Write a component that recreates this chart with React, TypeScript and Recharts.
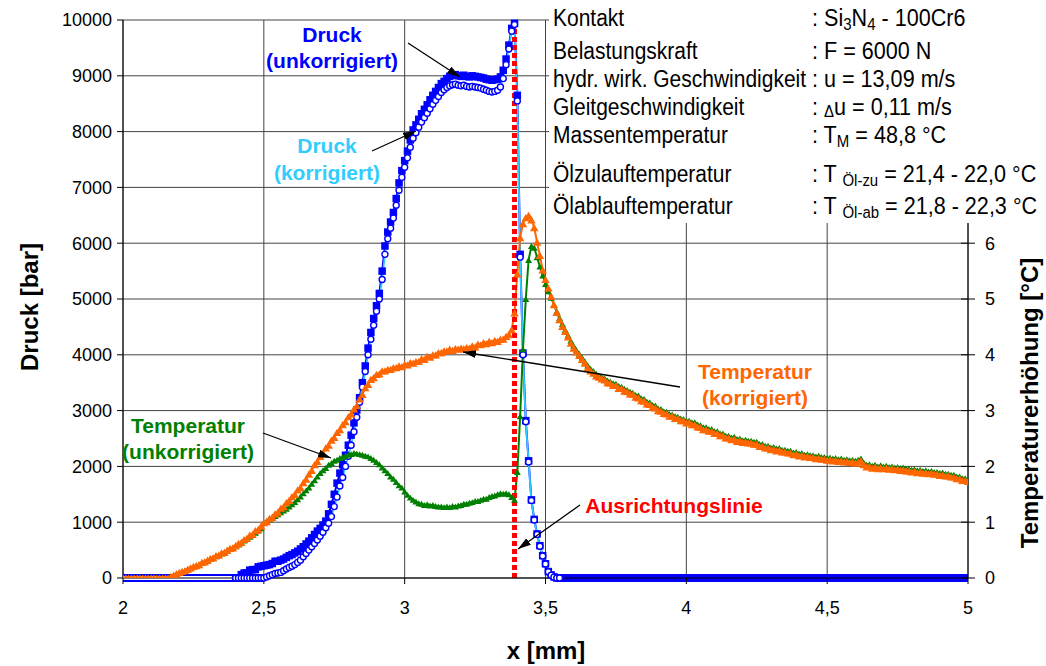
import React from "react";
import { CartesianGrid, ComposedChart, Line, ReferenceLine, XAxis, YAxis } from "recharts";

const FONT = '"Liberation Sans", Arial, Helvetica, sans-serif';
const BLUE = "#0000FF";
const CYAN = "#33CCFF";
const ORANGE = "#FF6600";
const GREEN = "#008000";
const RED = "#FF0000";

// Messraster in mm
const X_STEP = 0.01;
const TEMP_X0 = 2.0;
const DRUCK_X0 = 2.4;

const xTicks = [2, 2.5, 3, 3.5, 4, 4.5, 5];
const druckTicks = [0, 1000, 2000, 3000, 4000, 5000, 6000, 7000, 8000, 9000, 10000];
const tempTicks = [0, 1, 2, 3, 4, 5, 6];

const ausrichtungslinieX = 3.39;

// Temperaturerhöhung [°C], x = 2.00 ... 5.00 mm
const tempKorrigiert = [
  0, 0, 0, 0, 0, 0, 0, 0, 0, 0,
  0, 0, 0, 0, 0, 0, 0, 0.03, 0.05, 0.08,
  0.10, 0.12, 0.13, 0.16, 0.18, 0.21, 0.22, 0.24, 0.28, 0.29,
  0.32, 0.35, 0.36, 0.40, 0.41, 0.45, 0.46, 0.50, 0.53, 0.54,
  0.58, 0.62, 0.64, 0.69, 0.71, 0.77, 0.78, 0.85, 0.87, 0.93,
  0.99, 1.01, 1.07, 1.09, 1.15, 1.18, 1.25, 1.28, 1.35, 1.39,
  1.46, 1.50, 1.58, 1.62, 1.71, 1.77, 1.86, 1.93, 2.03, 2.09,
  2.18, 2.23, 2.33, 2.38, 2.47, 2.52, 2.61, 2.66, 2.75, 2.80,
  2.89, 2.94, 3.03, 3.09, 3.21, 3.29, 3.41, 3.47, 3.56, 3.59,
  3.65, 3.66, 3.71, 3.71, 3.74, 3.74, 3.77, 3.77, 3.80, 3.79,
  3.83, 3.82, 3.86, 3.85, 3.88, 3.88, 3.93, 3.92, 3.97, 3.96,
  4.00, 4.00, 4.04, 4.04, 4.07, 4.07, 4.10, 4.08, 4.11, 4.10,
  4.12, 4.11, 4.13, 4.12, 4.16, 4.14, 4.19, 4.18, 4.22, 4.20,
  4.24, 4.22, 4.26, 4.24, 4.28, 4.28, 4.33, 4.36, 4.45, 4.75,
  5.45, 6.10, 6.35, 6.46, 6.50, 6.42, 6.28, 6.02, 5.78, 5.52,
  5.35, 5.20, 5.05, 4.90, 4.76, 4.63, 4.51, 4.42, 4.32, 4.21,
  4.12, 4.05, 3.99, 3.92, 3.85, 3.77, 3.71, 3.67, 3.62, 3.60,
  3.57, 3.55, 3.50, 3.49, 3.45, 3.45, 3.40, 3.40, 3.35, 3.34,
  3.30, 3.29, 3.24, 3.23, 3.18, 3.17, 3.12, 3.11, 3.06, 3.05,
  3.00, 2.99, 2.95, 2.94, 2.90, 2.90, 2.86, 2.86, 2.82, 2.82,
  2.78, 2.79, 2.75, 2.75, 2.71, 2.70, 2.66, 2.66, 2.63, 2.63,
  2.59, 2.59, 2.55, 2.55, 2.51, 2.51, 2.48, 2.49, 2.45, 2.46,
  2.43, 2.44, 2.42, 2.42, 2.40, 2.40, 2.36, 2.36, 2.33, 2.33,
  2.30, 2.31, 2.28, 2.29, 2.26, 2.26, 2.24, 2.24, 2.21, 2.22,
  2.19, 2.20, 2.17, 2.18, 2.16, 2.16, 2.14, 2.15, 2.13, 2.13,
  2.11, 2.12, 2.10, 2.11, 2.09, 2.10, 2.08, 2.09, 2.07, 2.08,
  2.06, 2.08, 2.10, 2.03, 1.99, 2.00, 1.97, 1.99, 1.96, 1.98,
  1.96, 1.97, 1.95, 1.96, 1.94, 1.95, 1.93, 1.94, 1.92, 1.92,
  1.90, 1.91, 1.89, 1.90, 1.88, 1.89, 1.87, 1.88, 1.86, 1.86,
  1.84, 1.85, 1.83, 1.83, 1.81, 1.81, 1.78, 1.78, 1.75, 1.75,
  1.73,
];

const tempUnkorrigiert = [
  0, 0, 0, 0, 0, 0, 0, 0, 0, 0,
  0, 0, 0, 0, 0, 0, 0, 0.02, 0.04, 0.07,
  0.09, 0.11, 0.13, 0.15, 0.18, 0.20, 0.22, 0.24, 0.27, 0.29,
  0.31, 0.34, 0.36, 0.39, 0.41, 0.44, 0.46, 0.49, 0.52, 0.54,
  0.57, 0.60, 0.63, 0.67, 0.70, 0.74, 0.77, 0.81, 0.85, 0.89,
  0.99, 1.02, 1.05, 1.08, 1.11, 1.14, 1.18, 1.21, 1.24, 1.28,
  1.32, 1.36, 1.41, 1.46, 1.52, 1.57, 1.62, 1.69, 1.75, 1.82,
  1.88, 1.93, 1.97, 2.03, 2.06, 2.10, 2.12, 2.15, 2.17, 2.19,
  2.21, 2.22, 2.24, 2.23, 2.22, 2.21, 2.19, 2.18, 2.15, 2.12,
  2.08, 2.04, 1.98, 1.93, 1.88, 1.82, 1.78, 1.72, 1.66, 1.62,
  1.55, 1.49, 1.44, 1.40, 1.37, 1.34, 1.33, 1.31, 1.32, 1.30,
  1.31, 1.29, 1.28, 1.28, 1.27, 1.28, 1.27, 1.29, 1.28, 1.30,
  1.31, 1.33, 1.33, 1.35, 1.36, 1.38, 1.38, 1.40, 1.42, 1.42,
  1.45, 1.47, 1.48, 1.50, 1.52, 1.51, 1.52, 1.50, 1.45, 1.40,
  1.90, 2.90, 4.10, 5.00, 5.70, 5.95, 5.92, 5.75, 5.58, 5.42,
  5.27, 5.14, 5.02, 4.90, 4.78, 4.66, 4.55, 4.45, 4.35, 4.25,
  4.16, 4.08, 4.02, 3.95, 3.88, 3.81, 3.75, 3.71, 3.66, 3.63,
  3.60, 3.58, 3.54, 3.52, 3.49, 3.48, 3.44, 3.43, 3.39, 3.37,
  3.34, 3.32, 3.28, 3.27, 3.22, 3.21, 3.16, 3.15, 3.10, 3.09,
  3.04, 3.03, 2.99, 2.98, 2.94, 2.93, 2.90, 2.89, 2.86, 2.85,
  2.82, 2.82, 2.79, 2.79, 2.75, 2.74, 2.70, 2.70, 2.67, 2.67,
  2.63, 2.63, 2.59, 2.59, 2.55, 2.55, 2.52, 2.53, 2.49, 2.50,
  2.47, 2.48, 2.46, 2.46, 2.44, 2.44, 2.40, 2.40, 2.37, 2.37,
  2.34, 2.35, 2.32, 2.33, 2.30, 2.30, 2.28, 2.28, 2.25, 2.26,
  2.23, 2.24, 2.21, 2.22, 2.20, 2.20, 2.18, 2.19, 2.17, 2.17,
  2.15, 2.16, 2.14, 2.15, 2.13, 2.14, 2.12, 2.13, 2.11, 2.12,
  2.10, 2.12, 2.14, 2.07, 2.03, 2.04, 2.01, 2.03, 2.00, 2.02,
  2.00, 2.01, 1.99, 2.00, 1.98, 1.99, 1.97, 1.98, 1.96, 1.96,
  1.94, 1.95, 1.93, 1.94, 1.92, 1.93, 1.91, 1.92, 1.90, 1.90,
  1.88, 1.89, 1.87, 1.87, 1.85, 1.85, 1.82, 1.82, 1.79, 1.79,
  1.76,
];

// Druck [bar], x = 2.40 ... 3.55 mm
const druckUnkorrigiert = [
  0, 0, 60, 90, 90, 140, 150, 150, 200, 210,
  220, 230, 240, 260, 300, 300, 320, 340, 370, 400,
  420, 450, 480, 520, 560, 610, 660, 720, 780, 840,
  890, 950, 1020, 1150, 1320, 1500, 1700, 1880, 2030, 2200,
  2380, 2560, 2780, 3010, 3230, 3500, 3800, 4120, 4400, 4650,
  4880, 5100, 5500, 5950, 6200, 6380, 6550, 6800, 7080, 7300,
  7480, 7650, 7850, 8030, 8120, 8220, 8320, 8400, 8480, 8570,
  8650, 8720, 8790, 8860, 8900, 8950, 8990, 9010, 9020, 9000,
  8990, 9010, 8990, 8980, 9000, 8990, 8980, 8970, 8960, 8940,
  8930, 8920, 8930, 8940, 8980, 9100, 9300, 9550, 9850, 9940,
  8650, 5800, 4030, 2820, 2100, 1400, 1050, 790, 580, 400,
  255, 115, 55, 20, 0, 0,
];

const druckKorrigiert = [
  0, 0, 0, 0, 0, 0, 0, 0, 0, 0,
  0, 20, 40, 60, 80, 90, 100, 130, 160, 190,
  210, 240, 280, 320, 380, 440, 500, 560, 620, 680,
  750, 820, 900, 980, 1100, 1280, 1450, 1650, 1800, 2000,
  2180, 2380, 2620, 2880, 3150, 3420, 3700, 4000, 4280, 4530,
  4780, 5000, 5350, 5800, 6080, 6270, 6450, 6680, 6950, 7180,
  7360, 7530, 7720, 7880, 7980, 8080, 8170, 8250, 8330, 8410,
  8490, 8560, 8630, 8700, 8750, 8790, 8820, 8840, 8850, 8830,
  8820, 8830, 8810, 8800, 8810, 8800, 8790, 8780, 8760, 8740,
  8720, 8710, 8720, 8740, 8800, 8950, 9200, 9480, 9800, 9920,
  8550, 5750, 4000, 2800, 2080, 1390, 1040, 780, 570, 395,
  250, 110, 50, 15, 0, 0,
];

// Bereiche ohne Druck (x von, x bis)
const druckNullUnkorrigiert: [number, number][] = [[2.0, 2.41], [3.54, 5.0]];
const druckNullKorrigiert: [number, number][] = [[2.0, 2.5]];

const atStep = (x0: number, i: number) => Math.round((x0 + i * X_STEP) * 100) / 100;
const toSeries = (values: number[], x0: number) => values.map((v, i) => ({ x: atStep(x0, i), v }));
const toNullBand = (ranges: [number, number][]) =>
  ranges.flatMap(([a, b]) => [{ x: a, v: 0 }, { x: b, v: 0 }, { x: b, v: null as number | null }]);

const tempKorrData = toSeries(tempKorrigiert, TEMP_X0);
const tempUnkorrData = toSeries(tempUnkorrigiert, TEMP_X0);
const druckUnkorrData = toSeries(druckUnkorrigiert, DRUCK_X0);
const druckKorrData = toSeries(druckKorrigiert, DRUCK_X0);
const nullUnkorrData = toNullBand(druckNullUnkorrigiert);
const nullKorrData = toNullBand(druckNullKorrigiert);

const commaNum = (v: number) => String(v).replace(".", ",");

// Marker
const squareDot = (color: string, s: number) => (p: any) => {
  if (p.cx == null || p.cy == null) return <g key={p.index} />;
  return <rect key={p.index} x={p.cx - s / 2} y={p.cy - s / 2} width={s} height={s} fill={color} />;
};
const ringDot = (p: any) => {
  if (p.cx == null || p.cy == null) return <g key={p.index} />;
  return <circle key={p.index} cx={p.cx} cy={p.cy} r={3} fill="#fff" stroke={BLUE} strokeWidth={1.4} />;
};
const triangleDot = (color: string, w: number) => (p: any) => {
  if (p.cx == null || p.cy == null) return <g key={p.index} />;
  const h = w * 0.85;
  const d = `M${p.cx},${p.cy - h / 2} L${p.cx + w / 2},${p.cy + h / 2} L${p.cx - w / 2},${p.cy + h / 2} Z`;
  return <path key={p.index} d={d} fill={color} />;
};

// rechte Achse: Teilstriche laufen durch die Achse
const RightTick = (p: any) => {
  const ax = p.x - 17;
  return (
    <g>
      <line x1={ax - 7} x2={ax + 7} y1={p.y} y2={p.y} stroke="#000" />
      <text x={p.x} y={p.y} dy="0.355em" fontSize={18} fill="#000">
        {p.payload.value}
      </text>
    </g>
  );
};

const infoRows = [
  { label: "Kontakt", y: 26 },
  { label: "Belastungskraft", y: 59 },
  { label: "hydr. wirk. Geschwindigkeit", y: 87 },
  { label: "Gleitgeschwindigkeit", y: 115 },
  { label: "Massentemperatur", y: 143 },
  { label: "Ölzulauftemperatur", y: 182 },
  { label: "Ölablauftemperatur", y: 214 },
];

const SUB = { fontSize: 15 };

function InfoValue({ row }: { row: number }) {
  switch (row) {
    case 0:
      return (
        <>
          : Si<tspan {...SUB} dy={4}>3</tspan>
          <tspan dy={-4}>N</tspan>
          <tspan {...SUB} dy={4}>4</tspan>
          <tspan dy={-4}> - 100Cr6</tspan>
        </>
      );
    case 1:
      return <>: F = 6000 N</>;
    case 2:
      return <>: u = 13,09 m/s</>;
    case 3:
      return (
        <>
          : <tspan {...SUB} dy={2}>Δ</tspan>
          <tspan dy={-2}>u = 0,11 m/s</tspan>
        </>
      );
    case 4:
      return (
        <>
          : T<tspan {...SUB} dy={4}>M</tspan>
          <tspan dy={-4}> = 48,8 °C</tspan>
        </>
      );
    case 5:
      return (
        <>
          : T <tspan {...SUB} dy={4}>Öl-zu</tspan>
          <tspan dy={-4}> = 21,4 - 22,0 °C</tspan>
        </>
      );
    default:
      return (
        <>
          : T <tspan {...SUB} dy={4}>Öl-ab</tspan>
          <tspan dy={-4}> = 21,8 - 22,3 °C</tspan>
        </>
      );
  }
}

const callouts = [
  { lines: ["Druck", "(unkorrigiert)"], color: BLUE, cx: 332, y: [42, 68], from: [408, 43], to: [460, 77] },
  { lines: ["Druck", "(korrigiert)"], color: CYAN, cx: 327, y: [153, 180], from: [372, 151], to: [416, 131] },
  { lines: ["Temperatur", "(unkorrigiert)"], color: GREEN, cx: 188, y: [433, 459], from: [263, 433], to: [331, 458] },
  { lines: ["Temperatur", "(korrigiert)"], color: ORANGE, cx: 755, y: [379, 405], from: [680, 387], to: [463, 352] },
  { lines: ["Ausrichtungslinie"], color: RED, cx: 674, y: [513], from: [580, 505], to: [518, 549] },
];

export default function App() {
  return (
    <div style={{ position: "absolute", left: 0, top: 0, width: 1046, height: 666, background: "#fff", fontFamily: FONT }}>
      <ComposedChart width={1046} height={666} margin={{ top: 20, right: 0, bottom: 0, left: 0 }}>
        <CartesianGrid yAxisId="druck" stroke="#444" />
        <XAxis
          type="number"
          dataKey="x"
          domain={[2, 5]}
          ticks={xTicks}
          interval={0}
          allowDataOverflow
          tickFormatter={commaNum}
          tick={{ fill: "#000", fontSize: 18 }}
          tickLine={{ stroke: "#000" }}
          axisLine={{ stroke: "#000" }}
          tickSize={6}
          tickMargin={17}
          height={88}
        />
        <YAxis
          yAxisId="druck"
          domain={[0, 10000]}
          ticks={druckTicks}
          interval={0}
          tick={{ fill: "#000", fontSize: 18 }}
          tickLine={{ stroke: "#000" }}
          axisLine={{ stroke: "#000" }}
          tickSize={6}
          tickMargin={5}
          width={123}
        />
        <YAxis
          yAxisId="temp"
          orientation="right"
          domain={[0, 10]}
          ticks={tempTicks}
          interval={0}
          allowDataOverflow
          tick={RightTick}
          tickLine={false}
          axisLine={{ stroke: "#000" }}
          tickSize={7}
          tickMargin={10}
          width={78}
        />

        {/* Nulllinien der Druckverläufe */}
        <Line yAxisId="druck" data={nullUnkorrData} dataKey="v" stroke={BLUE} strokeWidth={8} dot={false} activeDot={false} isAnimationActive={false} />
        <Line yAxisId="druck" data={nullKorrData} dataKey="v" stroke={BLUE} strokeWidth={8} dot={false} activeDot={false} isAnimationActive={false} />
        <Line yAxisId="druck" data={nullKorrData} dataKey="v" stroke="#fff" strokeWidth={4} dot={false} activeDot={false} isAnimationActive={false} />

        <Line yAxisId="druck" data={druckUnkorrData} dataKey="v" stroke={BLUE} strokeWidth={2} dot={squareDot(BLUE, 7.5)} activeDot={false} isAnimationActive={false} />
        <Line yAxisId="druck" data={druckKorrData} dataKey="v" stroke={CYAN} strokeWidth={1.8} dot={ringDot} activeDot={false} isAnimationActive={false} />

        <Line yAxisId="temp" data={tempUnkorrData} dataKey="v" stroke={GREEN} strokeWidth={2} dot={triangleDot(GREEN, 7)} activeDot={false} isAnimationActive={false} />
        <Line yAxisId="temp" data={tempKorrData} dataKey="v" stroke={ORANGE} strokeWidth={2} dot={triangleDot(ORANGE, 8.5)} activeDot={false} isAnimationActive={false} />

        <ReferenceLine yAxisId="druck" x={ausrichtungslinieX} stroke={RED} strokeWidth={5} strokeDasharray="5 3" />
      </ComposedChart>

      <svg
        width={1046}
        height={666}
        style={{ position: "absolute", left: 0, top: 0, pointerEvents: "none", whiteSpace: "pre" }}
        fontFamily={FONT}
      >
        <defs>
          <marker id="pfeil" viewBox="0 0 13 8" refX={13} refY={4} markerWidth={13} markerHeight={8} markerUnits="userSpaceOnUse" orient="auto">
            <path d="M0,0 L13,4 L0,8 Z" fill="#000" />
          </marker>
        </defs>

        {/* Versuchsbedingungen */}
        <rect x={549} y={0} width={497} height={223} fill="#fff" />
        {infoRows.map((r, i) => (
          <g key={r.label} fill="#000">
            <text fontSize={21} transform={`translate(553 ${r.y}) scale(1 1.12)`}>{r.label}</text>
            <text fontSize={21.6} transform={`translate(812 ${r.y}) scale(1 1.12)`}>
              <InfoValue row={i} />
            </text>
          </g>
        ))}

        {callouts.map((c) => (
          <g key={c.lines.join(" ")}>
            <line x1={c.from[0]} y1={c.from[1]} x2={c.to[0]} y2={c.to[1]} stroke="#000" strokeWidth={1.3} markerEnd="url(#pfeil)" />
            {c.lines.map((t, j) => (
              <text key={t} x={c.cx} y={c.y[j]} textAnchor="middle" fontSize={21} fontWeight="bold" fill={c.color}>
                {t}
              </text>
            ))}
          </g>
        ))}

        {/* Achsentitel */}
        <text x={546} y={659} textAnchor="middle" fontSize={24} fontWeight="bold">x [mm]</text>
        <text x={30} y={307} dy="0.35em" textAnchor="middle" fontSize={24} fontWeight="bold" transform="rotate(-90 30 307)">
          Druck [bar]
        </text>
        <text x={1030} y={403} dy="0.35em" textAnchor="middle" fontSize={24} fontWeight="bold" transform="rotate(-90 1030 403)">
          Temperaturerhöhung [°C]
        </text>
      </svg>
    </div>
  );
}
